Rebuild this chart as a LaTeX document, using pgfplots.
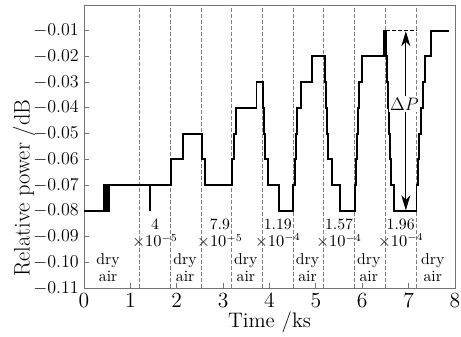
\documentclass[border=0pt]{standalone}
\usepackage{pgfplots}
\pgfplotsset{compat=1.18}
\usetikzlibrary{arrows.meta}
\begin{document}
\begin{tikzpicture}
\begin{axis}[
  scale only axis, width=247.33pt, height=188.67pt,
  xmin=0, xmax=8, ymin=-0.11, ymax=0,
  xtick={0,1,2,3,4,5,6,7,8},
  ytick={-0.11,-0.10,-0.09,-0.08,-0.07,-0.06,-0.05,-0.04,-0.03,-0.02,-0.01},
  scaled y ticks=false,
  tick align=inside, xtick pos=bottom, ytick pos=left,
  major tick length=3pt,
  axis line style={black!55, line width=0.6pt}, tick style={black!55, line width=0.6pt},
  yticklabel style={/pgf/number format/fixed,/pgf/number format/fixed zerofill,/pgf/number format/precision=2, font=\fontsize{12}{13}\selectfont},
  xticklabel style={font=\fontsize{14.5}{15}\selectfont},
  xlabel={Time /ks}, ylabel={Relative power /dB},
  xlabel style={font=\fontsize{14}{15}\selectfont, at={(axis description cs:0.5,-0.141)}, anchor=base},
  ylabel style={font=\fontsize{15}{16}\selectfont, at={(axis description cs:-0.162,0.353)}, anchor=center},
]
\coordinate (sw) at (rel axis cs:0,0);
\coordinate (ne) at (rel axis cs:1,1);
\pgfplotsinvokeforeach{1.185,1.855,2.52,3.18,3.845,4.51,5.17,5.835,6.5,7.16}{
  \addplot[black!50, line width=0.45pt, dash pattern=on 2.6pt off 1.4pt, forget plot] coordinates {(#1,-0.11) (#1,0)};
}
\addplot[black, line width=1.3pt, line join=miter] coordinates {
(0,-0.08) (0.43,-0.08)
(0.43,-0.07)(0.445,-0.07)(0.445,-0.08)(0.46,-0.08)(0.46,-0.07)(0.475,-0.07)(0.475,-0.08)(0.49,-0.08)(0.49,-0.07)(0.505,-0.07)(0.505,-0.08)(0.52,-0.08)(0.52,-0.07)(0.535,-0.07)(0.535,-0.08)(0.55,-0.08)(0.55,-0.07)
(1.415,-0.07)(1.415,-0.08)(1.415,-0.07)
(1.88,-0.07)(1.88,-0.06)(2.14,-0.06)(2.14,-0.05)(2.55,-0.05)(2.55,-0.06)(2.60,-0.06)(2.60,-0.07)
(3.19,-0.07)(3.19,-0.06)(3.23,-0.06)(3.23,-0.05)(3.28,-0.05)(3.28,-0.04)(3.72,-0.04)(3.72,-0.03)(3.865,-0.03)
(3.865,-0.04)(3.88,-0.04)(3.88,-0.05)(3.90,-0.05)(3.90,-0.06)(3.96,-0.06)(3.96,-0.07)(4.21,-0.07)(4.21,-0.08)(4.51,-0.08)
(4.51,-0.07)(4.54,-0.07)(4.54,-0.06)(4.57,-0.06)(4.57,-0.05)(4.60,-0.05)(4.60,-0.04)(4.67,-0.04)(4.67,-0.03)(4.91,-0.03)(4.91,-0.02)(5.19,-0.02)
(5.19,-0.03)(5.21,-0.03)(5.21,-0.04)(5.24,-0.04)(5.24,-0.05)(5.27,-0.05)(5.27,-0.06)(5.34,-0.06)(5.34,-0.07)(5.53,-0.07)(5.53,-0.08)(5.84,-0.08)
(5.84,-0.07)(5.86,-0.07)(5.86,-0.06)(5.88,-0.06)(5.88,-0.05)(5.90,-0.05)(5.90,-0.04)(5.94,-0.04)(5.94,-0.03)(6.0,-0.03)(6.0,-0.02)(6.46,-0.02)(6.46,-0.01)(6.52,-0.01)
(6.52,-0.02)(6.54,-0.02)(6.54,-0.03)(6.56,-0.03)(6.56,-0.04)(6.58,-0.04)(6.58,-0.05)(6.60,-0.05)(6.60,-0.06)(6.62,-0.06)(6.62,-0.07)(6.68,-0.07)(6.68,-0.08)(7.17,-0.08)
(7.17,-0.07)(7.20,-0.07)(7.20,-0.06)(7.23,-0.06)(7.23,-0.05)(7.26,-0.05)(7.26,-0.04)(7.30,-0.04)(7.30,-0.03)(7.35,-0.03)(7.35,-0.02)(7.49,-0.02)(7.49,-0.01)(7.87,-0.01)
};
\addplot[black, line width=0.9pt, dash pattern=on 2.5pt off 1.5pt] coordinates {(6.52,-0.01) (7.18,-0.01)};
\addplot[black, line width=0.8pt, {Stealth[length=10pt,width=6pt,inset=3pt]}-{Stealth[length=10pt,width=6pt,inset=3pt]}] coordinates {(6.94,-0.0102) (6.94,-0.0798)};
\node[fill=white, inner sep=1pt, font=\fontsize{12.5}{13}\selectfont] at (axis cs:6.91,-0.0385) {$\Delta P$};
\tikzset{ann/.style={align=center, font=\fontsize{10.5}{11.5}\selectfont, inner sep=0pt}}
\node[ann] at (axis cs:0.52,-0.1021) {dry\\air};
\node[ann] at (axis cs:2.18,-0.1021) {dry\\air};
\node[ann] at (axis cs:3.49,-0.1021) {dry\\air};
\node[ann] at (axis cs:4.82,-0.1021) {dry\\air};
\node[ann] at (axis cs:6.14,-0.1021) {dry\\air};
\node[ann] at (axis cs:7.52,-0.1021) {dry\\air};
\node[ann] at (axis cs:1.53,-0.0889) {4\\$\times10^{-5}$};
\node[ann] at (axis cs:2.93,-0.0889) {7.9\\$\times10^{-5}$};
\node[ann] at (axis cs:4.18,-0.0889) {1.19\\$\times10^{-4}$};
\node[ann] at (axis cs:5.50,-0.0889) {1.57\\$\times10^{-4}$};
\node[ann] at (axis cs:6.83,-0.0889) {1.96\\$\times10^{-4}$};
\end{axis}
\pgfresetboundingbox
\path[use as bounding box] ([shift={(-56pt,-32pt)}]sw) rectangle ([shift={(4pt,3.33pt)}]ne);
\end{tikzpicture}
\end{document}
